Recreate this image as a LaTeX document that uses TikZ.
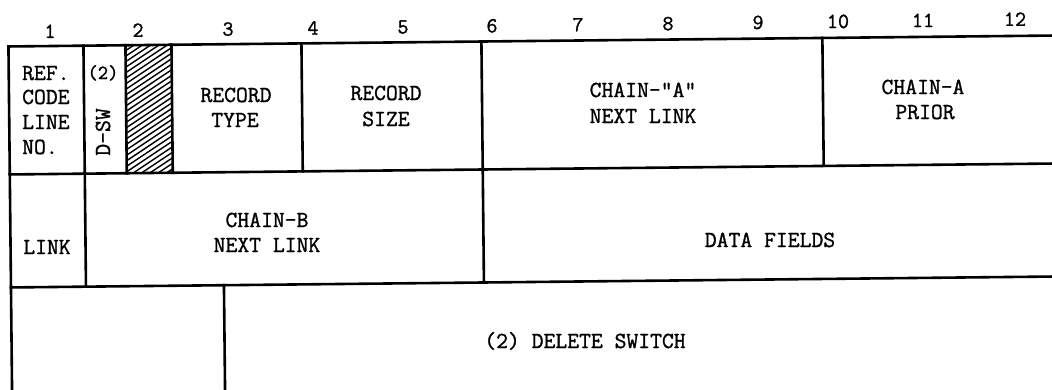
\documentclass[tikz,border=0pt]{standalone}
\usepackage{fontspec}
\newfontfamily\typew[FakeBold=1.2]{Latin Modern Mono}
\begin{document}
\begin{tikzpicture}[x=1pt,y=-1pt,
  grid/.style={line width=2.6pt, line cap=rect},
  hatch/.style={line width=1.4pt},
  lbl/.style={font=\fontsize{23}{24.5}\selectfont\typew, inner sep=0pt, anchor=base},
  num/.style={font=\fontsize{21.5}{22}\selectfont\typew, inner sep=0pt, anchor=base},
  small/.style={font=\fontsize{20}{22}\selectfont\typew, inner sep=0pt, anchor=base}]
\fill[white] (0,0) rectangle (1052,389);
\useasboundingbox (0,0) rectangle (1052,389);

\begin{scope}[rotate around={0.6:(531,194)}]
  % named corner coordinates
  \coordinate (tl) at (10,41);
  \coordinate (tr) at (1065,41);
  \coordinate (r1l) at (10,169);
  \coordinate (r1r) at (1065,169);
  \coordinate (r2l) at (10,282);
  \coordinate (r2r) at (1065,282);
  \coordinate (bl) at (10,400);
  % hatched field
  \begin{scope}
    \clip (127,41) rectangle (173,169);
    \foreach \k in {0,...,30} {
      \draw[hatch] (127,41+\k*5.5) -- ++(46,-30);
    }
  \end{scope}
  % horizontal rules
  \draw[grid] (tl) -- (tr);
  \draw[grid] (r1l) -- (r1r);
  \draw[grid] (r2l) -- (r2r);
  % left border
  \draw[grid] (tl) -- (bl);
  % row 1 separators
  \foreach \x in {85,127,173,303,824} {
    \draw[grid] (\x,41) -- (\x,169);
  }
  % long separators
  \draw[grid] (85,169) -- (85,282);
  \draw[grid] (483,41) -- (483,282);
  % row 3 separator
  \draw[grid] (223,282) -- (223,400);
\end{scope}

% column numbers
\node[num] (n1)  at (50,37.9)   {1};
\node[num] (n2)  at (138,36.8)  {2};
\node[num] (n3)  at (228,35.7)  {3};
\node[num] (n4)  at (313,34.6)  {4};
\node[num] (n5)  at (403,33.5)  {5};
\node[num] (n6)  at (492,32.4)  {6};
\node[num] (n7)  at (578,31.3)  {7};
\node[num] (n8)  at (668,30.2)  {8};
\node[num] (n9)  at (758,29.0)  {9};
\node[num] (n10) at (838,28.0)  {10};
\node[num] (n11) at (923,27.0)  {11};
\node[num] (n12) at (1015,25.8) {12};

% row 1
\node[lbl, anchor=base west] (ref1) at (22,80)  {REF.};
\node[lbl, anchor=base west] (ref2) at (22,104) {CODE};
\node[lbl, anchor=base west] (ref3) at (22,129) {LINE};
\node[lbl, anchor=base west] (ref4) at (22,154) {NO.};
\node[small] (dsw1) at (103,79) {(2)};
\node[lbl, anchor=center, rotate=90] (dsw2) at (103,132) {D-SW};
\node[lbl] (rt1) at (236,102) {RECORD};
\node[lbl] (rt2) at (235,127) {TYPE};
\node[lbl] (rs1) at (386,100) {RECORD};
\node[lbl] (rs2) at (386,126) {SIZE};
\node[lbl] (ca1) at (643,97)  {CHAIN-"A"};
\node[lbl] (ca2) at (643,123) {NEXT LINK};
\node[lbl] (cp1) at (923,94)  {CHAIN-A};
\node[lbl] (cp2) at (925,119) {PRIOR};

% row 2
\node[lbl] (lk)  at (47,254)  {LINK};
\node[lbl] (cb1) at (267,227) {CHAIN-B};
\node[lbl] (cb2) at (267,252) {NEXT LINK};
\node[lbl] (df)  at (770,247) {DATA FIELDS};

% row 3
\node[lbl] (ds)  at (585,348) {(2) DELETE SWITCH};
\end{tikzpicture}
\end{document}
